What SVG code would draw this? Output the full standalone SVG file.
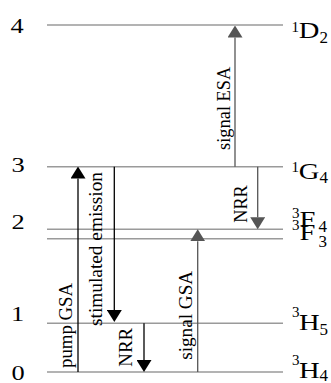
<svg xmlns="http://www.w3.org/2000/svg" width="331" height="383" viewBox="0 0 331 383">
<style>
.lvl{stroke:#9a9a9a;stroke-width:1.6;fill:none}
.ab{stroke:#000;stroke-width:1.3;fill:none}
.ag{stroke:#555;stroke-width:1.3;fill:none}
.t{font-family:"Liberation Serif","Times New Roman",serif;fill:#000}
.rl{font-size:18.5px}
.num{font-size:22px}
.big{font-size:22.5px}
.sup{font-size:15px}
.sub{font-size:17px}
</style>
<defs>
<marker id="hb" markerUnits="userSpaceOnUse" viewBox="0 0 12 15" markerWidth="12" markerHeight="15" refX="0" refY="7.5" orient="auto"><path d="M0,0 L12,7.5 L0,15 z" fill="#000"/></marker>
<marker id="hg" markerUnits="userSpaceOnUse" viewBox="0 0 12 15" markerWidth="12" markerHeight="15" refX="0" refY="7.5" orient="auto"><path d="M0,0 L12,7.5 L0,15 z" fill="#555"/></marker>
</defs>
<g id="levels">
<g id="L4"><line class="lvl" x1="47" y1="25" x2="283" y2="25"/><text class="t num" text-anchor="middle" transform="translate(17,33) scale(1.2,1)">4</text>
<text class="t sup" x="291.5" y="31.7">1</text><text class="t big" transform="translate(298.8,38.3) scale(1.27,1)">D</text><text class="t sub" x="319.5" y="43.3">2</text></g>
<g id="L3"><line class="lvl" x1="47" y1="166.7" x2="283" y2="166.7"/><text class="t num" text-anchor="middle" transform="translate(18,172) scale(1.2,1)">3</text>
<text class="t sup" x="291.5" y="171.7">1</text><text class="t big" transform="translate(298.8,179) scale(1.27,1)">G</text><text class="t sub" x="319.5" y="183.3">4</text></g>
<g id="L2"><line class="lvl" x1="47" y1="229.3" x2="283" y2="229.3"/><text class="t num" text-anchor="middle" transform="translate(18,228.5) scale(1.2,1)">2</text>
<text class="t sup" x="292" y="218.3">3</text><text class="t big" transform="translate(299.5,226.7) scale(1.27,1)">F</text><text class="t sub" x="318.5" y="231.7">4</text></g>
<g id="L2b"><line class="lvl" x1="47" y1="238.7" x2="283" y2="238.7"/>
<text class="t sup" x="292" y="230">3</text><text class="t big" transform="translate(299.5,240) scale(1.27,1)">F</text><text class="t sub" x="318.5" y="246.7">3</text></g>
<g id="L1"><line class="lvl" x1="47" y1="323.3" x2="283" y2="323.3"/><text class="t num" text-anchor="middle" transform="translate(17.5,321) scale(1.2,1)">1</text>
<text class="t sup" x="292" y="316.7">3</text><text class="t big" transform="translate(299,330) scale(1.27,1)">H</text><text class="t sub" x="319.5" y="335">5</text></g>
<g id="L0"><line class="lvl" x1="47" y1="372" x2="283" y2="372"/><text class="t num" text-anchor="middle" transform="translate(18,379.5) scale(1.2,1)">0</text>
<text class="t sup" x="292" y="365">3</text><text class="t big" transform="translate(299,378) scale(1.27,1)">H</text><text class="t sub" x="319.5" y="381">4</text></g>
</g>
<g id="connectors">
<line class="ab" x1="78" y1="372" x2="78" y2="178.5" marker-end="url(#hb)"/>
<line class="ab" x1="114.3" y1="166.7" x2="114.3" y2="310" marker-end="url(#hb)"/>
<line class="ab" x1="144" y1="323.3" x2="144" y2="360" marker-end="url(#hb)"/>
<line class="ag" x1="197.7" y1="372" x2="197.7" y2="241.3" marker-end="url(#hg)"/>
<line class="ag" x1="235" y1="166.7" x2="235" y2="37.5" marker-end="url(#hg)"/>
<line class="ag" x1="257.7" y1="166.7" x2="257.7" y2="217.3" marker-end="url(#hg)"/>
</g>
<g id="labels">
<text class="t rl" text-anchor="middle" textLength="85" lengthAdjust="spacingAndGlyphs" transform="translate(72,325.5) rotate(-90)">pump GSA</text>
<text class="t rl" text-anchor="middle" textLength="154" lengthAdjust="spacingAndGlyphs" transform="translate(101.5,249) rotate(-90)">stimulated emission</text>
<text class="t rl" text-anchor="middle" textLength="38.7" lengthAdjust="spacingAndGlyphs" transform="translate(131.5,347.3) rotate(-90)">NRR</text>
<text class="t rl" text-anchor="middle" textLength="89" lengthAdjust="spacingAndGlyphs" transform="translate(192,315.3) rotate(-90)">signal GSA</text>
<text class="t rl" text-anchor="middle" textLength="83.3" lengthAdjust="spacingAndGlyphs" transform="translate(230,108.3) rotate(-90)">signal ESA</text>
<text class="t rl" text-anchor="middle" textLength="37.7" lengthAdjust="spacingAndGlyphs" transform="translate(246.5,204) rotate(-90)">NRR</text>
</g>
</svg>
